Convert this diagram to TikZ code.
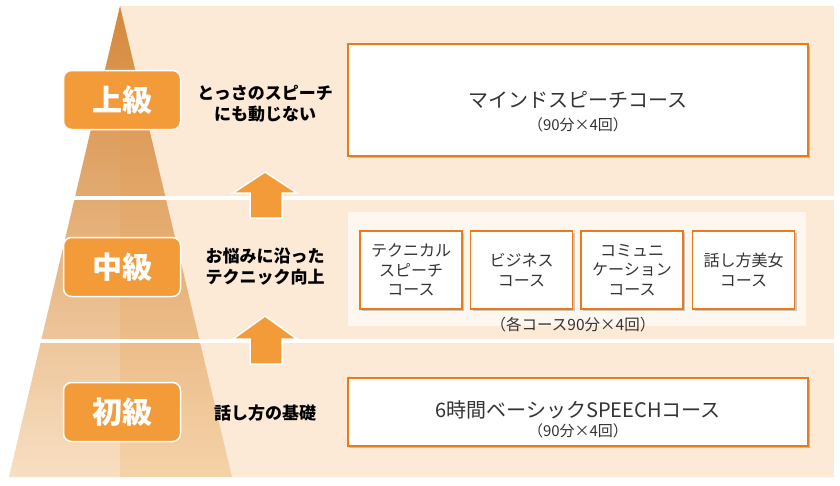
\documentclass[tikz,border=0pt]{standalone}
\usepackage{fontspec}
\setmainfont{Noto Sans CJK JP}
\usetikzlibrary{shadows}
\definecolor{band}{HTML}{FDEAD6}
\definecolor{inner}{HTML}{FEF7EF}
\definecolor{lvl}{HTML}{F39B39}
\definecolor{edge}{HTML}{E97B1C}
\definecolor{txt}{HTML}{333333}
\definecolor{pyrtopL}{HTML}{D4873A}
\definecolor{pyrbotL}{HTML}{F8DFC2}
\definecolor{pyrtopR}{HTML}{D5893D}
\definecolor{pyrbotR}{HTML}{F5D2A9}
\begin{document}
\begin{tikzpicture}[x=1pt,y=-1pt,
  level/.style={fill=lvl, draw=white, line width=1.5pt, rounded corners=8pt,
    minimum width=117pt, minimum height=59pt, text=white, inner sep=0pt,
    font=\fontsize{30}{32}\selectfont\bfseries},
  note/.style={align=center, text=black, inner sep=0pt,
    font=\fontsize{17}{21}\selectfont\bfseries},
  course/.style={fill=white, draw=edge, line width=1.3pt, inner sep=0pt,
    drop shadow={shadow xshift=2pt, shadow yshift=-2pt, opacity=0.35, fill=black!60}},
  small/.style={fill=white, draw=edge, line width=1.3pt, inner sep=0pt,
    minimum width=102pt, minimum height=78pt, text=txt, align=center,
    font=\fontsize{16}{19.5}\selectfont,
    drop shadow={shadow xshift=2pt, shadow yshift=-2pt, opacity=0.35, fill=black!60}},
  big/.style={text=txt, inner sep=0pt, font=\fontsize{20}{22}\selectfont},
  sub/.style={text=txt, inner sep=0pt, font=\fontsize{15}{17}\selectfont},
  uparrow/.style={fill=lvl, draw=white, line width=1.5pt, line join=miter}
]
\useasboundingbox (0,0) rectangle (840,485);
\fill[white] (0,0) rectangle (840,485);
% bands
\fill[band] (120,6) rectangle (834,477);
% pyramid
\shade[top color=pyrtopL, bottom color=pyrbotL] (120,6) -- (9,477) -- (120,477) -- cycle;
\shade[top color=pyrtopR, bottom color=pyrbotR] (120,6) -- (232,477) -- (120,477) -- cycle;
% white separators
\fill[white] (0,196) rectangle (840,199.5);
\fill[white] (0,339) rectangle (840,342.5);
% inner container of middle band
\node[fill=inner, minimum width=458pt, minimum height=114pt, inner sep=0pt] (cont) at (577,269) {};
% arrows
\filldraw[uparrow] (265,172) -- (297,193) -- (282,193) -- (282,218) -- (250,218) -- (250,193) -- (233,193) -- cycle;
\filldraw[uparrow] (265,316) -- (297,339) -- (282,339) -- (282,364) -- (250,364) -- (250,339) -- (233,339) -- cycle;
% level labels
\node[level] (adv) at (122,100) {上級};
\node[level] (mid) at (122,267) {中級};
\node[level] (beg) at (122,412) {初級};
% notes
\node[note] (advn) at (265,104) {とっさのスピーチ\\にも動じない};
\node[note] (midn) at (265,267) {お悩みに沿った\\テクニック向上};
\node[note] (begn) at (265,413) {話し方の基礎};
% top course
\node[course, minimum width=460pt, minimum height=112pt] (mind) at (578,100) {};
\node[big] (mindt) at (578,100) {マインドスピーチコース};
\node[sub] (minds) at (578,125) {（90分×4回）};
% middle courses
\node[small] (c1) at (411,270) {テクニカル\\スピーチ\\コース};
\node[small] (c2) at (521.5,270) {ビジネス\\コース};
\node[small] (c3) at (632,270) {コミュニ\\ケーション\\コース};
\node[small] (c4) at (743.5,270) {話し方美女\\コース};
\node[text=txt, inner sep=0pt, font=\fontsize{15.5}{17}\selectfont] (cap) at (573,325) {（各コース90分×4回）};
% bottom course
\node[course, minimum width=460pt, minimum height=68pt] (basic) at (578,412) {};
\node[big] (basict) at (578,410) {6時間ベーシックSPEECHコース};
\node[sub] (basics) at (578,431) {（90分×4回）};
\end{tikzpicture}
\end{document}
